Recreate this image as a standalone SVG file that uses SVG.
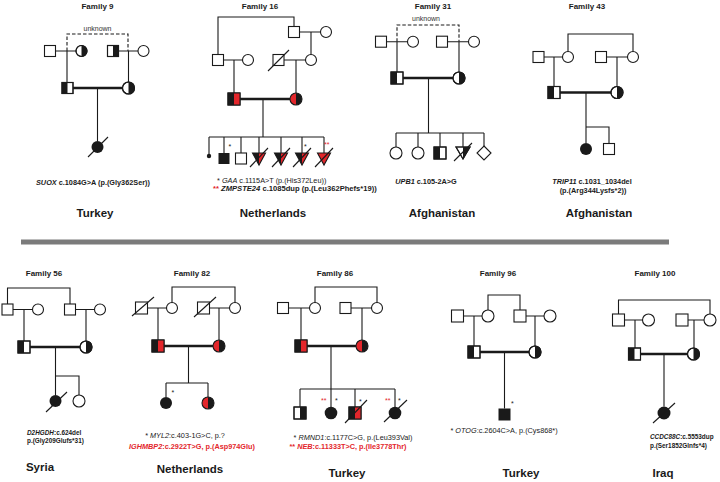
<svg xmlns="http://www.w3.org/2000/svg" width="720" height="482" viewBox="0 0 720 482">
<style>
.ln{fill:none;stroke:#1a1a1a;stroke-width:1.1}
.th{fill:none;stroke:#1a1a1a;stroke-width:2.6}
.ds{fill:none;stroke:#1a1a1a;stroke-width:1.1;stroke-dasharray:3.5 2}
.s{fill:#fff;stroke:#1a1a1a;stroke-width:1.1}
.o{fill:none;stroke:#1a1a1a;stroke-width:1.1}
.k{fill:#1a1a1a}
.r{fill:#e3262b}
text{font-family:"Liberation Sans",Arial,Helvetica,sans-serif;fill:#1a1a1a}
.t{font-size:8px;font-weight:bold;text-anchor:middle}
.c{font-size:11.5px;font-weight:bold;text-anchor:middle}
.a{font-size:7.3px}
.a2{font-size:6.4px}
.u{font-size:7px;text-anchor:middle;fill:#333}
.st{font-size:7px}
.b{font-weight:bold}
.i{font-style:italic}
.rt{fill:#e3262b}
.m{text-anchor:middle}
</style>
<rect x="0" y="0" width="720" height="482" fill="#fff"/>
<rect x="21" y="239.5" width="648" height="5" fill="#7b7b7b"/>

<g id="connectors">
<path class="ds" d="M67,51V34H128V51"/>
<path class="ln" d="M55.5,51H76M118.5,51H138M67,51V82.5M128.5,51V82M97.5,88V141"/>
<path class="th" d="M73,88H122.5"/>
<path class="ln" d="M218,54.5V17H294V26.5M299.5,32H320.5M311,32V54.5M223.5,60H242.5M234,60V93M284,60H305.5M296,60V93M263,99V137M209,137H324M209,137V154M224,137V153M241,137V153M259,137V153M281,137V153M302,137V153M324,137V153"/>
<path class="th" d="M240,99H290"/>
<path class="ds" d="M397,41.7V25H459V41.7"/>
<path class="ln" d="M386.5,41.7H407.5M447.5,41.7H468.5M397,41.7V72M459,41.7V72M428.5,78V133M396,133H484M396,133V147M418,133V147M440,133V147M463,133V147M484,133V146"/>
<path class="th" d="M403,78H453"/>
<path class="ln" d="M568,51.5V34H633V51.5M544,57H562.5M606.5,57H627.5M554,57V86.5M617,57V86.5M586,92.5V143M586,127H609V143.5"/>
<path class="th" d="M560,92.5H611"/>
<path class="ln" d="M7.5,304V288H70V304M13,309.5H32.5M75.5,309.5H94.5M24,309.5V341M86,309.5V341M55.5,347V395M55.5,376H79V395"/>
<path class="th" d="M30,347H80"/>
<path class="ln" d="M172,302.5V287H235V302.5M147.5,308H166.5M209.5,308H229.5M158,308V340M219,308V340M188.5,346V383M166,383H208M166,383V397M208,383V397"/>
<path class="th" d="M164,346H213"/>
<path class="ln" d="M315,302.5V287H377V302.5M288.5,308H309.5M351,308H371.5M301,308V340M362,308V340M331,346V407M300,389H395M300,389V407M355,389V407M395,389V407"/>
<path class="th" d="M307,346H356"/>
<path class="ln" d="M488,310V295H520V310M463.5,316H482M526,316H544M474,316V346M535,316V346M504.5,352V408.5"/>
<path class="th" d="M480,352H529"/>
<path class="ln" d="M618.5,314V300H710V314M624.5,320H642.5M688,320H704M635,320V348M694,320V348M664,354V406.5"/>
<path class="th" d="M640.5,354H687.5"/>
</g>

<g id="family9">
<text class="t" x="97.5" y="8.5">Family 9</text>
<text class="u" x="97.5" y="31">unknown</text>
<rect class="s" x="44.5" y="45.5" width="11" height="11"/>
<circle class="s" cx="81.5" cy="51" r="5.5"/><path class="k" d="M81.5,45.5A5.5,5.5 0 0 1 81.5,56.5Z"/><circle class="o" cx="81.5" cy="51" r="5.5"/>
<rect class="s" x="107.5" y="45.5" width="11" height="11"/><rect class="k" x="113" y="45.5" width="5.5" height="11"/><rect class="o" x="107.5" y="45.5" width="11" height="11"/>
<circle class="s" cx="143.5" cy="51" r="5.5"/>
<rect class="s" x="62" y="82.5" width="11" height="11"/><rect class="k" x="62" y="82.5" width="5.5" height="11"/><rect class="o" x="62" y="82.5" width="11" height="11"/>
<circle class="s" cx="128.5" cy="88" r="6"/><path class="k" d="M128.5,82A6,6 0 0 1 128.5,94Z"/><circle class="o" cx="128.5" cy="88" r="6"/>
<circle class="k" cx="97.5" cy="147" r="6"/>
<path class="ln" d="M88,157L108,137"/>
<text class="a b" x="36" y="185"><tspan class="i">SUOX</tspan> c.1084G&gt;A (p.(Gly362Ser))</text>
<text class="c" x="95" y="217">Turkey</text>
</g>

<g id="family16">
<text class="t" x="260" y="8.5">Family 16</text>
<rect class="s" x="288.5" y="26.5" width="11" height="11"/>
<circle class="s" cx="326" cy="32" r="5.5"/>
<rect class="s" x="212.5" y="54.5" width="11" height="11"/>
<circle class="s" cx="248" cy="60" r="5.5"/>
<rect class="s" x="273" y="54.5" width="11" height="11"/>
<path class="ln" d="M268,71L289,50"/>
<circle class="s" cx="311" cy="60" r="5.5"/>
<rect class="s" x="228" y="93" width="12" height="12"/><rect class="k" x="228" y="93" width="6" height="12"/><rect class="r" x="234" y="93" width="6" height="12"/><rect class="o" x="228" y="93" width="12" height="12"/>
<path class="r" d="M296,93A6,6 0 0 0 296,105Z"/><path class="k" d="M296,93A6,6 0 0 1 296,105Z"/><circle class="o" cx="296" cy="99" r="6"/>
<circle class="k" cx="209" cy="156" r="2.2"/>
<rect class="k" x="218.5" y="153" width="11" height="11"/>
<rect class="s" x="235.5" y="153" width="11" height="11"/>
<path class="k" d="M252.5,153H259V165Z"/><path class="r" d="M259,153H265.5L259,165Z"/><path class="o" d="M252.5,153H265.5L259,165Z"/><path class="ln" d="M250,167L268,148"/>
<path class="k" d="M274.5,153H281V165Z"/><path class="r" d="M281,153H287.5L281,165Z"/><path class="o" d="M274.5,153H287.5L281,165Z"/><path class="ln" d="M272,167L290,148"/>
<path class="k" d="M295.5,153H302V165Z"/><path class="r" d="M302,153H308.5L302,165Z"/><path class="o" d="M295.5,153H308.5L302,165Z"/><path class="ln" d="M293,167L311,148"/>
<path class="r" d="M317.5,153H330.5L324,165Z"/><path class="o" d="M317.5,153H330.5L324,165Z"/><path class="ln" d="M315,167L333,148"/>
<text class="st" x="228.5" y="149">*</text>
<text class="st" x="304" y="149">*</text>
<text class="st rt" x="324" y="147">**</text>
<text class="a" x="217" y="182.5">* <tspan class="i">GAA</tspan> c.1115A&gt;T (p.(His372Leu))</text>
<text class="a b" x="213" y="191" style="font-size:7.6px"><tspan class="rt">**</tspan> <tspan class="i">ZMPSTE24</tspan> c.1085dup (p.(Leu362Phefs*19))</text>
<text class="c" x="273" y="217">Netherlands</text>
</g>

<g id="family31">
<text class="t" x="433" y="8.5">Family 31</text>
<text class="u" x="426" y="21">unknown</text>
<rect class="s" x="375.5" y="36.2" width="11" height="11"/>
<circle class="s" cx="413" cy="41.7" r="5.5"/>
<rect class="s" x="436.5" y="36.2" width="11" height="11"/>
<circle class="s" cx="474" cy="41.7" r="5.5"/>
<rect class="s" x="391" y="72" width="12" height="12"/><rect class="k" x="391" y="72" width="6" height="12"/><rect class="o" x="391" y="72" width="12" height="12"/>
<circle class="s" cx="459" cy="78" r="6"/><path class="k" d="M459,72A6,6 0 0 1 459,84Z"/><circle class="o" cx="459" cy="78" r="6"/>
<circle class="s" cx="396" cy="153" r="6"/>
<circle class="s" cx="418" cy="153" r="6"/>
<rect class="s" x="434" y="147" width="12" height="12"/><rect class="k" x="434" y="147" width="6" height="12"/><rect class="o" x="434" y="147" width="12" height="12"/>
<path class="s" d="M456,147H470L463,159Z"/><path class="k" d="M463,147H470L463,159Z"/><path class="o" d="M456,147H470L463,159Z"/><path class="ln" d="M454,161L472,143"/>
<path class="s" d="M484,146L491,153L484,160L477,153Z"/>
<text class="a b m" x="426" y="184"><tspan class="i">UPB1</tspan> c.105-2A&gt;G</text>
<text class="c" x="442" y="217">Afghanistan</text>
</g>

<g id="family43">
<text class="t" x="587" y="8.5">Family 43</text>
<rect class="s" x="533" y="51.5" width="11" height="11"/>
<circle class="s" cx="568" cy="57" r="5.5"/>
<rect class="s" x="595.5" y="51.5" width="11" height="11"/>
<circle class="s" cx="633" cy="57" r="5.5"/>
<rect class="s" x="548" y="86.5" width="12" height="12"/><rect class="k" x="548" y="86.5" width="6" height="12"/><rect class="o" x="548" y="86.5" width="12" height="12"/>
<circle class="s" cx="617" cy="92.5" r="6"/><path class="k" d="M617,86.5A6,6 0 0 1 617,98.5Z"/><circle class="o" cx="617" cy="92.5" r="6"/>
<circle class="k" cx="586" cy="149" r="6"/>
<rect class="s" x="603.5" y="143.5" width="11" height="11"/>
<text class="a b m" x="592" y="184"><tspan class="i">TRIP11</tspan> c.1031_1034del</text>
<text class="a b m" x="593" y="193">(p.(Arg344Lysfs*2))</text>
<text class="c" x="599" y="217">Afghanistan</text>
</g>

<g id="family56">
<text class="t" x="44" y="276">Family 56</text>
<rect class="s" x="2" y="304" width="11" height="11"/>
<circle class="s" cx="38" cy="309.5" r="5.5"/>
<rect class="s" x="64.5" y="304" width="11" height="11"/>
<circle class="s" cx="100" cy="309.5" r="5.5"/>
<rect class="s" x="18" y="341" width="12" height="12"/><rect class="k" x="18" y="341" width="6" height="12"/><rect class="o" x="18" y="341" width="12" height="12"/>
<circle class="s" cx="86" cy="347" r="6"/><path class="k" d="M86,341A6,6 0 0 1 86,353Z"/><circle class="o" cx="86" cy="347" r="6"/>
<circle class="k" cx="55.5" cy="401" r="6"/>
<path class="ln" d="M46,412L67,392"/>
<circle class="s" cx="79" cy="401" r="6"/>
<text class="a2 b" x="27" y="435"><tspan class="i">D2HGDH</tspan>:c.624del</text>
<text class="a2 b" x="27" y="443">p.(Gly209Glufs*31)</text>
<text class="c" x="40" y="471">Syria</text>
</g>

<g id="family82">
<text class="t" x="192" y="276">Family 82</text>
<rect class="s" x="135.5" y="302" width="12" height="12"/>
<path class="ln" d="M132,316L154,297"/>
<circle class="s" cx="172" cy="308" r="5.5"/>
<rect class="s" x="197.5" y="302" width="12" height="12"/>
<path class="ln" d="M194,317L216,297"/>
<circle class="s" cx="235" cy="308" r="5.5"/>
<rect class="s" x="152" y="340" width="12" height="12"/><rect class="k" x="152" y="340" width="6" height="12"/><rect class="r" x="158" y="340" width="6" height="12"/><rect class="o" x="152" y="340" width="12" height="12"/>
<path class="r" d="M219,340A6,6 0 0 0 219,352Z"/><path class="k" d="M219,340A6,6 0 0 1 219,352Z"/><circle class="o" cx="219" cy="346" r="6"/>
<circle class="k" cx="166" cy="403" r="6"/>
<path class="r" d="M208,397A6,6 0 0 0 208,409Z"/><path class="k" d="M208,397A6,6 0 0 1 208,409Z"/><circle class="o" cx="208" cy="403" r="6"/>
<text class="st" x="171.5" y="395">*</text>
<text class="a m" x="185" y="438">* <tspan class="i">MYL2</tspan>:c.403-1G&gt;C, p.?</text>
<text class="a b m rt" x="192" y="449"><tspan class="i">IGHMBP2</tspan>:c.2922T&gt;G, p.(Asp974Glu)</text>
<text class="c" x="190" y="473">Netherlands</text>
</g>

<g id="family86">
<text class="t" x="335" y="276">Family 86</text>
<rect class="s" x="277.5" y="302.5" width="11" height="11"/>
<circle class="s" cx="315" cy="308" r="5.5"/>
<rect class="s" x="340" y="302.5" width="11" height="11"/>
<circle class="s" cx="377" cy="308" r="5.5"/>
<rect class="s" x="295" y="340" width="12" height="12"/><rect class="k" x="295" y="340" width="6" height="12"/><rect class="r" x="301" y="340" width="6" height="12"/><rect class="o" x="295" y="340" width="12" height="12"/>
<path class="r" d="M362,340A6,6 0 0 0 362,352Z"/><path class="k" d="M362,340A6,6 0 0 1 362,352Z"/><circle class="o" cx="362" cy="346" r="6"/>
<rect class="s" x="294" y="407" width="12" height="12"/><rect class="k" x="300" y="407" width="6" height="12"/><rect class="o" x="294" y="407" width="12" height="12"/>
<circle class="k" cx="331" cy="413" r="6.3"/>
<rect class="s" x="349" y="407" width="12" height="12"/><rect class="k" x="349" y="407" width="6" height="12"/><rect class="r" x="355" y="407" width="6" height="12"/><rect class="o" x="349" y="407" width="12" height="12"/>
<path class="ln" d="M345,423L367,400"/>
<circle class="k" cx="395" cy="413" r="6.3"/>
<path class="ln" d="M384,422L407,400"/>
<text class="st rt" x="321" y="403">**</text>
<text class="st" x="335" y="403">*</text>
<text class="st" x="359" y="404">*</text>
<text class="st rt" x="385" y="403">**</text>
<text class="st" x="398" y="403">*</text>
<text class="a m" x="353" y="440">* <tspan class="i">RMND1</tspan>:c.1177C&gt;G, p.(Leu393Val)</text>
<text class="a b m rt" x="348" y="448.5">** <tspan class="i">NEB</tspan>:c.11333T&gt;C, p.(Ile3778Thr)</text>
<text class="c" x="347" y="477">Turkey</text>
</g>

<g id="family96">
<text class="t" x="498" y="276">Family 96</text>
<rect class="s" x="451.5" y="310" width="12" height="12"/>
<circle class="s" cx="488" cy="316" r="6"/>
<rect class="s" x="514" y="310" width="12" height="12"/>
<circle class="s" cx="550" cy="316" r="6"/>
<rect class="s" x="468" y="346" width="12" height="12"/><rect class="k" x="468" y="346" width="6" height="12"/><rect class="o" x="468" y="346" width="12" height="12"/>
<circle class="s" cx="535" cy="352" r="6"/><path class="k" d="M535,346A6,6 0 0 1 535,358Z"/><circle class="o" cx="535" cy="352" r="6"/>
<rect class="k" x="498.5" y="408.5" width="12" height="12"/>
<text class="st" x="511" y="406">*</text>
<text class="a m" x="504" y="432.5">* <tspan class="i">OTOG</tspan>:c.2604C&gt;A, p.(Cys868*)</text>
<text class="c" x="521" y="477">Turkey</text>
</g>

<g id="family100">
<text class="t" x="655" y="276">Family 100</text>
<rect class="s" x="612.5" y="314" width="12" height="12"/>
<circle class="s" cx="648.5" cy="320" r="6"/>
<rect class="s" x="676" y="314" width="12" height="12"/>
<circle class="s" cx="710" cy="320" r="6"/>
<rect class="s" x="628.5" y="348" width="12" height="12"/><rect class="k" x="628.5" y="348" width="6" height="12"/><rect class="o" x="628.5" y="348" width="12" height="12"/>
<circle class="s" cx="693.5" cy="354" r="6"/><path class="k" d="M693.5,348A6,6 0 0 1 693.5,360Z"/><circle class="o" cx="693.5" cy="354" r="6"/>
<circle class="k" cx="664" cy="413" r="6.5"/>
<path class="ln" d="M653,423L675,403"/>
<text class="a2 b" x="650" y="439"><tspan class="i">CCDC88C</tspan>:c.5553dup</text>
<text class="a2 b" x="650" y="448">p.(Ser1852Glnfs*4)</text>
<text class="c" x="663" y="477">Iraq</text>
</g>
</svg>
